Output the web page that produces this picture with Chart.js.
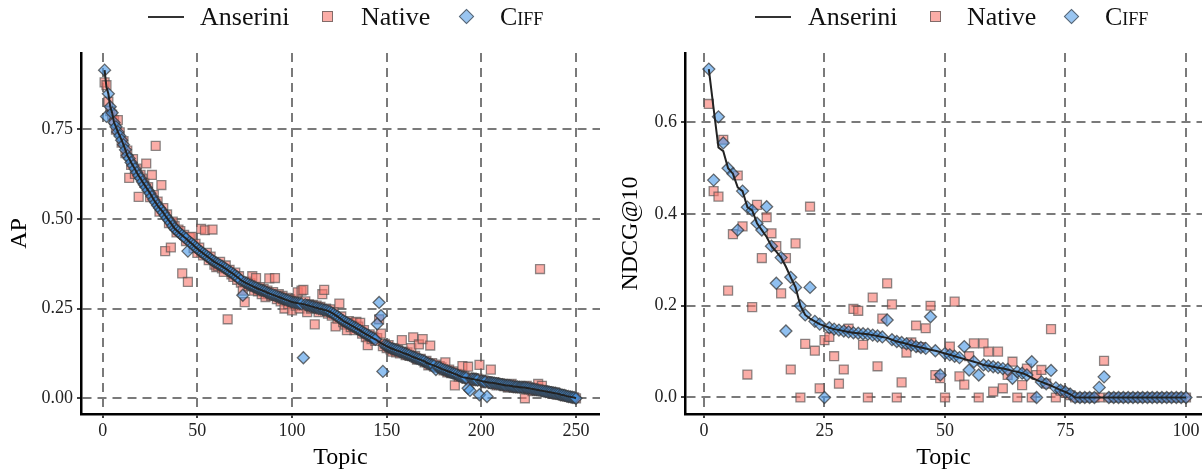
<!DOCTYPE html>
<html><head><meta charset="utf-8">
<script src="https://cdn.jsdelivr.net/npm/chart.js@4.4.1/dist/chart.umd.min.js"></script>
<style>
html,body{margin:0;padding:0;background:#fff;}
body{width:1202px;height:472px;position:relative;overflow:hidden;font-family:'Liberation Serif',serif;}
canvas{position:absolute;top:0;}
.lg{position:absolute;top:3px;height:28px;line-height:28px;font-size:26px;color:#111;white-space:nowrap;}
.sym-line{position:absolute;height:2px;background:#333;width:36px;top:16px}
.sym-sq{position:absolute;width:9px;height:9px;top:11px;background:rgba(248,118,109,0.6);border:1.3px solid rgba(80,80,80,0.7)}
.sym-di{position:absolute;width:9px;height:9px;top:11px;background:rgba(70,150,230,0.55);border:1.3px solid rgba(60,60,60,0.7);transform:rotate(45deg)}
.sc{font-variant:small-caps}
</style></head><body>
<canvas id="c1" width="600" height="472" style="left:0"></canvas>
<canvas id="c2" width="602" height="472" style="left:600px"></canvas>

<div class="sym-line" style="left:148px"></div>
<div class="lg" style="left:200px">Anserini</div>
<div class="sym-sq" style="left:322px"></div>
<div class="lg" style="left:361px">Native</div>
<div class="sym-di" style="left:461px"></div>
<div class="lg sc" style="left:500px">Ciff</div>

<div class="sym-line" style="left:755px"></div>
<div class="lg" style="left:808px">Anserini</div>
<div class="sym-sq" style="left:930px"></div>
<div class="lg" style="left:967px">Native</div>
<div class="sym-di" style="left:1066px"></div>
<div class="lg sc" style="left:1105px">Ciff</div>

<script>
// ---------- AP panel (250 topics) ----------
const apAnserini = [
.914,.866,.848,.812,.795,.768,.756,.742,.731,.719,
.706,.692,.676,.668,.657,.648,.639,.629,.620,.612,
.603,.595,.587,.579,.571,.562,.553,.545,.537,.530,
.524,.517,.509,.502,.495,.488,.480,.473,.468,.463,
.458,.454,.449,.445,.440,.435,.431,.426,.421,.417,
.412,.408,.404,.400,.396,.392,.388,.384,.380,.377,
.374,.371,.368,.364,.361,.357,.353,.350,.346,.342,
.338,.334,.329,.326,.323,.320,.318,.315,.313,.310,
.308,.305,.303,.301,.299,.297,.294,.292,.290,.288,
.286,.284,.282,.280,.278,.276,.274,.272,.270,.268,
.267,.266,.265,.264,.263,.262,.261,.259,.258,.256,
.255,.253,.252,.250,.249,.248,.246,.245,.243,.241,
.238,.235,.231,.228,.224,.220,.216,.213,.210,.207,
.204,.201,.198,.195,.192,.189,.185,.182,.179,.176,
.173,.170,.167,.164,.161,.157,.154,.151,.148,.145,
.143,.140,.138,.136,.134,.132,.130,.128,.126,.124,
.122,.120,.117,.115,.113,.111,.109,.107,.105,.103,
.099,.097,.095,.093,.091,.089,.087,.085,.082,.080,
.078,.076,.074,.072,.070,.068,.066,.063,.061,.059,
.058,.057,.056,.055,.054,.053,.052,.051,.050,.048,
.047,.046,.045,.044,.043,.043,.042,.041,.040,.039,
.038,.037,.036,.036,.035,.034,.033,.032,.032,.031,
.031,.030,.030,.029,.028,.027,.026,.025,.024,.023,
.022,.021,.020,.019,.018,.017,.016,.015,.014,.013,
.012,.010,.009,.008,.006,.005,.004,.003,.002,.000];

const apNative = [
.880,.872,.826,.800,.790,.774,.748,.775,.741,.712,
.716,.683,.690,.614,.650,.666,.625,.640,.561,.622,
.612,.600,.654,.588,.560,.622,.566,.703,.548,.520,
.594,.530,.410,.512,.488,.420,.492,.480,.462,.470,
.466,.348,.455,.438,.324,.448,.450,.418,.430,.405,
.420,.472,.398,.468,.405,.385,.395,.470,.372,.365,
.368,.380,.362,.352,.370,.220,.358,.345,.338,.350,
.330,.340,.322,.300,.268,.325,.312,.320,.340,.300,
.335,.298,.310,.290,.305,.282,.300,.334,.285,.296,
.335,.276,.290,.270,.285,.250,.280,.262,.276,.245,
.272,.258,.295,.250,.300,.302,.270,.240,.262,.250,
.260,.206,.258,.240,.255,.290,.302,.250,.236,.248,
.230,.240,.200,.222,.264,.228,.212,.205,.190,.215,
.198,.210,.190,.213,.200,.210,.180,.190,.170,.148,
.178,.165,.172,.160,.168,.220,.180,.145,.152,.140,
.148,.136,.130,.140,.128,.135,.125,.162,.130,.120,
.128,.118,.140,.170,.118,.108,.150,.110,.165,.100,
.104,.092,.147,.098,.088,.094,.085,.090,.086,.078,
.100,.072,.080,.070,.075,.036,.068,.060,.066,.090,
.062,.055,.088,.050,.058,.056,.048,.055,.093,.052,
.050,.042,.048,.046,.080,.040,.045,.036,.042,.040,
.040,.034,.038,.030,.036,.040,.030,.035,.028,.032,
.028,.032,.000,.035,.025,.030,.020,.028,.022,.040,
.360,.035,.022,.018,.020,.015,.018,.012,.016,.010,
.012,.010,.008,.006,.007,.004,.005,.002,.003,.000];

const apCiff = [
.914,.785,.848,.812,.795,.768,.756,.742,.731,.719,
.706,.692,.676,.668,.657,.648,.639,.629,.620,.612,
.603,.595,.587,.579,.571,.562,.553,.545,.537,.530,
.524,.517,.509,.502,.495,.488,.480,.473,.468,.463,
.458,.454,.449,.445,.410,.435,.431,.426,.421,.417,
.412,.408,.404,.400,.396,.392,.388,.384,.380,.377,
.374,.371,.368,.364,.361,.357,.353,.350,.346,.342,
.338,.334,.329,.287,.323,.320,.318,.315,.313,.310,
.308,.305,.303,.301,.299,.297,.294,.292,.290,.288,
.286,.284,.282,.280,.278,.276,.274,.272,.270,.268,
.267,.266,.265,.264,.263,.113,.261,.259,.258,.256,
.255,.253,.252,.250,.249,.248,.246,.245,.243,.241,
.238,.235,.231,.228,.224,.220,.216,.213,.210,.207,
.204,.201,.198,.195,.192,.189,.185,.182,.179,.176,
.173,.170,.167,.164,.207,.267,.230,.075,.148,.145,
.143,.140,.138,.136,.134,.132,.130,.128,.126,.124,
.122,.120,.117,.115,.113,.111,.109,.107,.105,.103,
.099,.097,.095,.093,.091,.080,.087,.085,.082,.080,
.078,.076,.074,.072,.070,.068,.066,.063,.061,.059,
.058,.057,.028,.022,.054,.053,.052,.051,.010,.048,
.047,.046,.005,.044,.043,.043,.042,.041,.040,.039,
.038,.037,.036,.036,.035,.034,.033,.032,.032,.031,
.031,.030,.030,.029,.028,.027,.026,.025,.024,.023,
.022,.021,.020,.019,.018,.017,.016,.015,.014,.013,
.012,.010,.009,.008,.006,.005,.004,.003,.002,.000];

const apXTicks = [0, 50, 100, 150, 200, 250];
const apYTicks = [0, 0.25, 0.5, 0.75];
const apYLabels = ['0.00', '0.25', '0.50', '0.75'];

// ---------- NDCG@10 panel (100 topics) ----------
const ndAnserini = [
.716,.630,.545,.537,.500,.488,.458,.450,.415,.408,
.380,.365,.350,.330,.318,.305,.285,.262,.240,.200,
.180,.172,.166,.160,.156,.152,.149,.147,.145,.143,
.141,.140,.139,.138,.136,.134,.132,.130,.126,.122,
.120,.117,.114,.111,.109,.107,.104,.102,.099,.096,
.093,.090,.087,.084,.081,.078,.075,.071,.069,.067,
.065,.063,.061,.058,.056,.053,.049,.043,.038,.034,
.030,.026,.021,.016,.012,.007,0,0,0,0,
0,0,0,0,0,0,0,0,0,0,
0,0,0,0,0,0,0,0,0,0];

const ndNative = [
.640,.450,.438,.562,.233,.356,.484,.373,.050,.197,
.420,.304,.393,.358,.330,.227,.304,.061,.336,.000,
.117,.416,.102,.020,.125,.132,.090,.030,.061,.150,
.193,.189,.115,.000,.218,.068,.172,.249,.203,.000,
.033,.098,.120,.157,.110,.151,.200,.049,.042,.000,
.111,.209,.046,.028,.090,.118,.000,.118,.100,.013,
.100,.020,.049,.078,.000,.027,.063,.000,.049,.060,
.030,.149,.000,.015,.010,.005,0,0,0,0,
0,0,.080,0,0,0,0,0,0,0,
0,0,0,0,0,0,0,0,0,0];

const ndCiff = [
.716,.474,.612,.555,.500,.488,.365,.450,.415,.408,
.380,.365,.416,.330,.249,.305,.145,.262,.240,.200,
.180,.240,.166,.160,.000,.152,.149,.147,.145,.143,
.141,.140,.139,.138,.136,.134,.132,.169,.126,.122,
.120,.117,.114,.111,.109,.107,.176,.102,.049,.096,
.093,.090,.087,.111,.060,.078,.049,.071,.069,.067,
.065,.063,.061,.042,.056,.053,.049,.078,.000,.034,
.030,.059,.021,.016,.012,.007,0,0,0,0,
0,.022,.045,0,0,0,0,0,0,0,
0,0,0,0,0,0,0,0,0,0];

const ndXTicks = [0, 25, 50, 75, 100];
const ndYTicks = [0, 0.2, 0.4, 0.6];
const ndYLabels = ['0.0', '0.2', '0.4', '0.6'];

// ---------- shared styling ----------
const FONT = "'Liberation Serif', 'Times New Roman', serif";
const toPoints = arr => arr.map((v, i) => ({x: i + 1, y: v}));

function makeChart(id, ans, nat, cif, xTicks, yTicks, yLabels, yTitle, xr, yr, yAxisW, yTitlePad) {
  const ctx = document.getElementById(id);
  return new Chart(ctx, {
    type: 'scatter',
    data: {
      datasets: [
        {label: 'Anserini', type: 'line', data: toPoints(ans), order: 0,
         borderColor: '#222', borderWidth: 2, pointRadius: 0, tension: 0, fill: false},
        {label: 'Ciff', data: toPoints(cif), order: 1, pointStyle: 'rectRot', pointRadius: 6,
         backgroundColor: 'rgba(70,150,230,0.6)', borderColor: 'rgba(50,50,50,0.7)', borderWidth: 1.3},
        {label: 'Native', data: toPoints(nat), order: 2, pointStyle: 'rect', pointRadius: 6.3,
         backgroundColor: 'rgba(248,118,109,0.6)', borderColor: 'rgba(80,80,80,0.65)', borderWidth: 1.3}
      ]
    },
    options: {
      responsive: false, animation: false, devicePixelRatio: 1,
      layout: {autoPadding: false, padding: {top: 53, right: 0, bottom: 0, left: 0}},
      plugins: {legend: {display: false}, tooltip: {enabled: false}},
      scales: {
        x: {
          type: 'linear', min: xr[0], max: xr[1],
          afterBuildTicks: s => { s.ticks = xTicks.map(v => ({value: v})); },
          afterFit: s => { s.height = 58; s.paddingLeft = 0; s.paddingRight = 0; },
          grid: {color: '#7a7a7a', lineWidth: 2, tickColor: '#000', tickWidth: 1.5, tickLength: 4},
          border: {display: true, color: '#000', width: 2.5, dash: [9, 6]},
          ticks: {color: '#222', font: {family: FONT, size: 18}, padding: 2, maxRotation: 0, autoSkip: false},
          title: {display: true, text: 'Topic', color: '#000', font: {family: FONT, size: 24, lineHeight: 1.2}, padding: 0}
        },
        y: {
          type: 'linear', min: yr[0], max: yr[1],
          afterBuildTicks: s => { s.ticks = yTicks.map(v => ({value: v})); },
          afterFit: s => { s.width = yAxisW; s.paddingTop = 0; s.paddingBottom = 0; },
          grid: {color: '#7a7a7a', lineWidth: 2, tickColor: '#000', tickWidth: 1.5, tickLength: 4},
          border: {display: true, color: '#000', width: 2.5, dash: [9, 6]},
          ticks: {color: '#222', font: {family: FONT, size: 18}, padding: 4, autoSkip: false,
                  callback: (v) => { const k = yTicks.indexOf(v); return k >= 0 ? yLabels[k] : ''; }},
          title: {display: true, text: yTitle, color: '#000', font: {family: FONT, size: 24, lineHeight: 1.2}, padding: yTitlePad}
        }
      }
    }
  });
}

makeChart('c1', apAnserini, apNative, apCiff, apXTicks, apYTicks, apYLabels, 'AP',
          [-11.46, 262.67], [-0.0437, 0.9617], 81, 5);
makeChart('c2', ndAnserini, ndNative, ndCiff, ndXTicks, ndYTicks, ndYLabels, 'NDCG@10',
          [-3.94, 103.32], [-0.036, 0.7511], 85, 16);
</script>
</body></html>
